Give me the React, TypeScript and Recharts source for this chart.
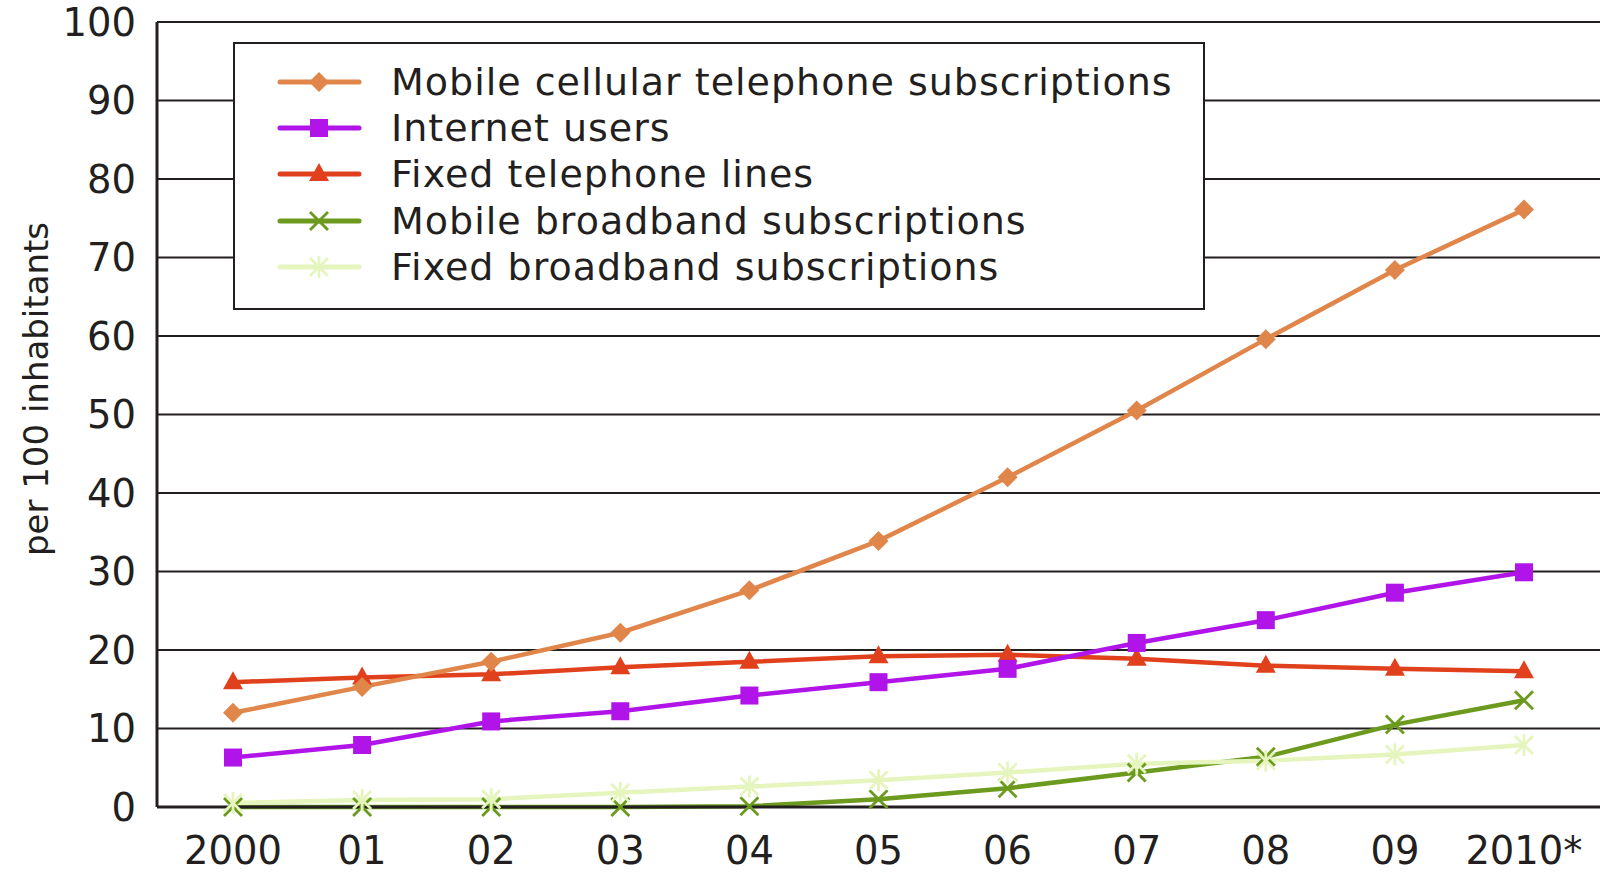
import { CartesianGrid, Legend, Line, LineChart, XAxis, YAxis } from 'recharts';

const years = ['2000', '01', '02', '03', '04', '05', '06', '07', '08', '09', '2010*'];
const mobileCellular = [12.0, 15.3, 18.5, 22.2, 27.6, 33.9, 42.0, 50.5, 59.6, 68.4, 76.1];
const internetUsers = [6.3, 7.9, 10.9, 12.2, 14.2, 15.9, 17.6, 20.9, 23.8, 27.3, 29.9];
const fixedTelephone = [15.9, 16.5, 16.9, 17.8, 18.5, 19.2, 19.4, 18.9, 18.0, 17.6, 17.3];
const mobileBroadband = [0, 0, 0, 0, 0.1, 1.0, 2.4, 4.4, 6.4, 10.5, 13.6];
const fixedBroadband = [0.5, 0.9, 1.0, 1.8, 2.6, 3.4, 4.4, 5.5, 5.9, 6.7, 7.9];
const yTicks = [0, 10, 20, 30, 40, 50, 60, 70, 80, 90, 100];

type MarkerKind = 'diamond' | 'square' | 'triangle' | 'cross' | 'star';

type Series = { key: string; name: string; color: string; marker: MarkerKind };

// legend order
const series: Series[] = [
  { key: 'mobileCellular', name: 'Mobile cellular telephone subscriptions', color: '#e0864a', marker: 'diamond' },
  { key: 'internetUsers', name: 'Internet users', color: '#b014e8', marker: 'square' },
  { key: 'fixedTelephone', name: 'Fixed telephone lines', color: '#e0401c', marker: 'triangle' },
  { key: 'mobileBroadband', name: 'Mobile broadband subscriptions', color: '#6b9a1e', marker: 'cross' },
  { key: 'fixedBroadband', name: 'Fixed broadband subscriptions', color: '#e6f4bd', marker: 'star' },
];

// drawing order (later on top)
const drawOrder = ['fixedTelephone', 'internetUsers', 'mobileBroadband', 'fixedBroadband', 'mobileCellular'];

const data = years.map((year, i) => ({
  year,
  mobileCellular: mobileCellular[i],
  internetUsers: internetUsers[i],
  fixedTelephone: fixedTelephone[i],
  mobileBroadband: mobileBroadband[i],
  fixedBroadband: fixedBroadband[i],
}));

const FONT = '"DejaVu Sans", sans-serif';
const INK = '#231f20';

function Marker({ kind, cx, cy, color }: { kind: MarkerKind; cx: number; cy: number; color: string }) {
  if (cx == null || cy == null) return null;
  switch (kind) {
    case 'diamond':
      return <polygon points={`${cx},${cy - 10} ${cx + 10},${cy} ${cx},${cy + 10} ${cx - 10},${cy}`} fill={color} />;
    case 'square':
      return <rect x={cx - 9} y={cy - 9} width={18} height={18} fill={color} />;
    case 'triangle':
      return <polygon points={`${cx},${cy - 11} ${cx + 10},${cy + 7} ${cx - 10},${cy + 7}`} fill={color} />;
    case 'cross':
      return (
        <g stroke={color} strokeWidth={2.8}>
          <line x1={cx - 9} y1={cy - 9} x2={cx + 9} y2={cy + 9} />
          <line x1={cx - 9} y1={cy + 9} x2={cx + 9} y2={cy - 9} />
        </g>
      );
    default:
      return (
        <g stroke={color} strokeWidth={2.8}>
          <line x1={cx - 9} y1={cy - 9} x2={cx + 9} y2={cy + 9} />
          <line x1={cx - 9} y1={cy + 9} x2={cx + 9} y2={cy - 9} />
          <line x1={cx} y1={cy - 11} x2={cx} y2={cy + 11} />
        </g>
      );
  }
}

function LegendBox() {
  return (
    <div
      style={{
        border: `2px solid ${INK}`,
        background: '#fff',
        width: 968,
        height: 249,
        boxSizing: 'content-box',
        paddingTop: 15,
        fontFamily: FONT,
        fontSize: 38,
        letterSpacing: 1,
        color: INK,
      }}
    >
      {series.map((s) => (
        <div key={s.key} style={{ display: 'flex', alignItems: 'center', height: 46.2 }}>
          <svg width={120} height={30} style={{ marginLeft: 36, flex: 'none' }}>
            <line x1={9} y1={15} x2={88} y2={15} stroke={s.color} strokeWidth={5} strokeLinecap="round" />
            <Marker kind={s.marker} cx={48} cy={15} color={s.color} />
          </svg>
          <span style={{ marginLeft: 0, whiteSpace: 'nowrap' }}>{s.name}</span>
        </div>
      ))}
    </div>
  );
}

export default function App() {
  return (
    <div style={{ position: 'absolute', left: 0, top: 0, width: 1600, height: 873, background: '#fff' }}>
      <LineChart width={1600} height={873} data={data} margin={{ top: 22, right: 0, bottom: 6, left: 0 }}>
        <CartesianGrid horizontal vertical={false} stroke={INK} strokeWidth={2} />
        <XAxis
          dataKey="year"
          padding={{ left: 76, right: 76 }}
          height={60}
          tickLine={false}
          tickMargin={24}
          axisLine={{ stroke: INK, strokeWidth: 3 }}
          tick={{ fill: INK, fontSize: 38.5, fontFamily: FONT }}
          interval={0}
        />
        <YAxis
          width={157}
          domain={[0, 100]}
          ticks={yTicks}
          interval={0}
          tickLine={false}
          tickMargin={15}
          axisLine={{ stroke: INK, strokeWidth: 3 }}
          tick={{ fill: INK, fontSize: 38.5, fontFamily: FONT }}
          label={{
            content: () => (
              <text
                transform="translate(48,389) rotate(-90)"
                textAnchor="middle"
                fontFamily={FONT}
                fontSize={34}
                fill={INK}
              >
                per 100 inhabitants
              </text>
            ),
          }}
        />
        <Legend
          layout="vertical"
          align="center"
          verticalAlign="middle"
          content={() => <LegendBox />}
          wrapperStyle={{ position: 'absolute', left: 233, top: 42, width: 972, height: 268 }}
        />
        {drawOrder.map((key) => {
          const s = series.find((x) => x.key === key)!;
          return (
            <Line
              key={s.key}
              type="linear"
              dataKey={s.key}
              name={s.name}
              stroke={s.color}
              strokeWidth={4.5}
              isAnimationActive={false}
              dot={(p: any) => (
                <Marker key={`${s.key}-${p.index}`} kind={s.marker} cx={p.cx} cy={p.cy} color={s.color} />
              )}
              activeDot={false}
            />
          );
        })}
      </LineChart>
    </div>
  );
}
